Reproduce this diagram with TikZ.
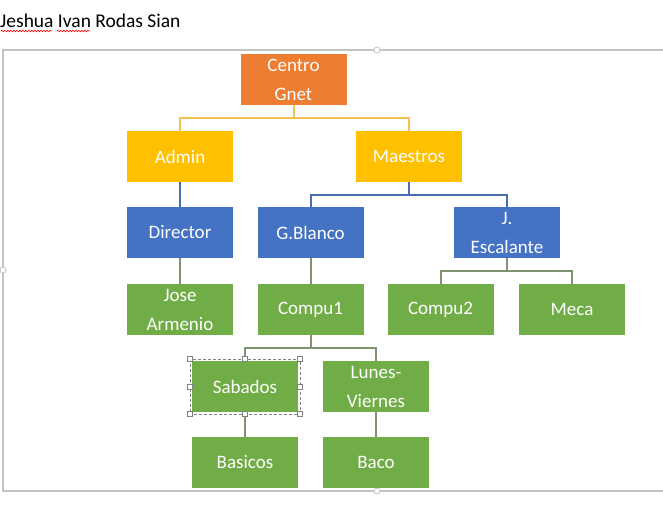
\documentclass[tikz,border=0pt]{standalone}
\usepackage{fontspec}
\setmainfont{Carlito}
\usetikzlibrary{positioning, decorations.pathmorphing}
\definecolor{orgfill}{HTML}{ED7D31}
\definecolor{yelfill}{HTML}{FFC000}
\definecolor{blufill}{HTML}{4472C4}
\definecolor{grnfill}{HTML}{70AD47}
\definecolor{yelline}{HTML}{F2C24E}
\definecolor{bluline}{HTML}{4C6DAE}
\definecolor{grnline}{HTML}{7E9470}
\definecolor{framegray}{HTML}{C4C4C4}
\newcommand{\drop}{0,13}
\tikzset{
    box/.style={minimum width=106pt, minimum height=51pt, inner sep=0pt,
        align=center, text=white, font=\fontsize{19}{29}\selectfont},
    orgbox/.style={box, fill=orgfill},
    yelbox/.style={box, fill=yelfill},
    blubox/.style={box, fill=blufill},
    grnbox/.style={box, fill=grnfill},
    conn/.style={line width=2pt},
    squiggle/.style={red, line width=0.6pt, decorate,
        decoration={snake, amplitude=0.8pt, segment length=3pt}}
}

\begin{document}
\begin{tikzpicture}[x=1pt, y=-1pt]
        \useasboundingbox (0,0) rectangle (663,504);
        % page text and frame
        \node[anchor=base west, inner sep=0pt, font=\fontsize{19.5}{24}\selectfont] (title) at (0,27) {Jeshua Ivan Rodas Sian};
        \draw[squiggle] (1,31) -- (52,31);
        \draw[squiggle] (57,31) -- (90,31);
        \draw[framegray, line width=1.2pt] (663,50) -- (3,50) -- (3,491) -- (663,491);
        \foreach \p in {(377,50), (377,491), (3,270)}
            \draw[framegray, fill=white, line width=0.8pt] \p circle (3pt);

        % nodes
        \node[orgbox] (centro) at (293.5,79.5) {Centro\\Gnet};
        \node[yelbox] (admin) at (180,156.5) {Admin};
        \node[yelbox] (maestros) at (409,156.5) {Maestros};
        \node[blubox] (director) at (180,232.5) {Director};
        \node[blubox] (gblanco) at (310.5,232.5) {G.Blanco};
        \node[blubox] (escalante) at (507,232.5) {J.\\Escalante};
        \node[grnbox] (jose) at (180,309.5) {Jose\\Armenio};
        \node[grnbox] (compu1) at (310.5,309.5) {Compu1};
        \node[grnbox] (compu2) at (440.5,309.5) {Compu2};
        \node[grnbox] (meca) at (572,309.5) {Meca};
        \node[grnbox] (sabados) at (245,386.5) {Sabados};
        \node[grnbox] (lunes) at (376,386.5) {Lunes-\\Viernes};
        \node[grnbox] (basicos) at (245,462.5) {Basicos};
        \node[grnbox] (baco) at (376,462.5) {Baco};

        % connectors
        \draw[conn, yelline] (centro.south) -- ++(\drop) -| (admin.north);
        \draw[conn, yelline] (centro.south) -- ++(\drop) -| (maestros.north);
        \draw[conn, bluline] (admin) -- (director);
        \draw[conn, bluline] (maestros.south) -- ++(\drop) -| (gblanco.north);
        \draw[conn, bluline] (maestros.south) -- ++(\drop) -| (escalante.north);
        \draw[conn, grnline] (director) -- (jose);
        \draw[conn, grnline] (gblanco) -- (compu1);
        \draw[conn, grnline] (escalante.south) -- ++(\drop) -| (compu2.north);
        \draw[conn, grnline] (escalante.south) -- ++(\drop) -| (meca.north);
        \draw[conn, grnline] (compu1.south) -- ++(\drop) -| (sabados.north);
        \draw[conn, grnline] (compu1.south) -- ++(\drop) -| (lunes.north);
        \draw[conn, grnline] (sabados) -- (basicos);
        \draw[conn, grnline] (lunes) -- (baco);

        % selection of Sabados
        \draw[gray, densely dashed, line width=0.5pt] ([shift={(-2,-2)}]sabados.north west) rectangle ([shift={(2,2)}]sabados.south east);
        \foreach \p in {(190,359), (245,359), (300,359), (300,386.5), (300,414), (245,414), (190,414), (190,386.5)}
            \draw[gray, fill=white, line width=0.5pt] \p +(-2.5,-2.5) rectangle +(2.5,2.5);
\end{tikzpicture}
\end{document}
